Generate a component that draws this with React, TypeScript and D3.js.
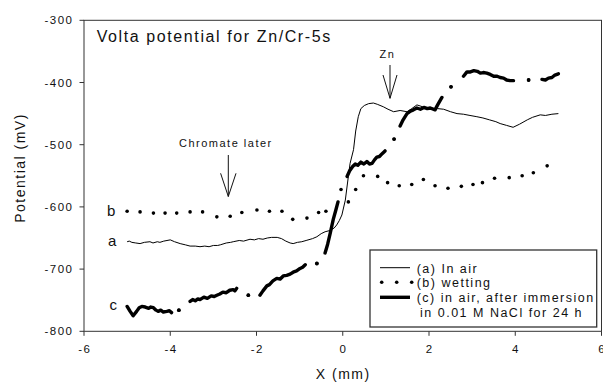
import React from "react";
import * as d3 from "d3";

const W = 603;
const H = 382;

const xTicks = [-6, -4, -2, 0, 2, 4, 6];
const yTicks = [-300, -400, -500, -600, -700, -800];

// (a) In air
const aX = [-5.0, -4.95, -4.89, -4.8, -4.7, -4.6, -4.47, -4.4, -4.3, -4.24, -4.15, -4.0, -3.9, -3.77, -3.65, -3.54, -3.42, -3.31, -3.2, -3.1, -3.0, -2.9, -2.84, -2.7, -2.6, -2.54, -2.4, -2.3, -2.15, -2.05, -1.95, -1.85, -1.75, -1.65, -1.52, -1.42, -1.32, -1.22, -1.15, -1.05, -0.95, -0.85, -0.7, -0.6, -0.5, -0.41, -0.3, -0.2, -0.14, -0.08, -0.02, 0.06, 0.13, 0.17, 0.25, 0.3, 0.36, 0.42, 0.5, 0.6, 0.71, 0.8, 0.94, 1.05, 1.18, 1.33, 1.49, 1.6, 1.72, 1.85, 2.03, 2.2, 2.34, 2.5, 2.65, 2.8, 2.95, 3.11, 3.25, 3.4, 3.55, 3.65, 3.8, 3.95, 4.1, 4.28, 4.4, 4.58, 4.7, 4.85, 5.0];
const aY = [-656, -655, -657, -658, -659, -657, -656, -658, -656, -657, -655, -653, -656, -659, -661, -663, -663, -664, -663, -664, -662, -662, -661, -658, -657, -656, -654, -655, -652, -653, -651, -652, -650, -649, -649, -651, -655, -658, -659, -657, -656, -654, -651, -648, -643, -640, -638, -634, -629, -622, -613, -589, -551, -530, -508, -478, -455, -442, -437, -434, -433, -435, -439, -443, -447, -445, -447, -442, -436, -439, -441, -442, -443, -447, -450, -451, -453, -455, -457, -460, -463, -466, -469, -472, -467, -460, -456, -452, -453, -451, -450];

// (b) wetting
const bX = [-5.0, -4.7, -4.39, -4.12, -3.85, -3.54, -3.25, -2.92, -2.61, -2.34, -1.99, -1.7, -1.41, -1.16, -0.83, -0.56, -0.39, -0.04, 0.13, 0.3, 0.48, 0.81, 1.04, 1.31, 1.6, 1.87, 2.14, 2.44, 2.75, 3.02, 3.24, 3.52, 3.86, 4.16, 4.42, 4.74];
const bY = [-607, -608, -610, -610, -610, -608, -608, -616, -615, -609, -605, -607, -607, -620, -618, -609, -607, -572, -592, -572, -550, -551, -561, -566, -564, -556, -566, -570, -567, -564, -561, -554, -553, -550, -545, -534];

// (c) in air, after immersion (NaN = gap in the recording)
const cX = [-5.0, -4.93, -4.86, -4.78, -4.72, -4.66, -4.58, -4.5, -4.45, -4.39, -4.33, -4.28, -4.22, -4.16, -4.08, -4.02, -3.97, NaN,
  -3.8, NaN,
  -3.54, -3.48, -3.42, -3.36, -3.31, -3.22, -3.14, -3.05, -2.98, -2.92, -2.85, -2.78, -2.7, -2.62, -2.54, -2.5, -2.46, NaN,
  -2.19, NaN,
  -1.92, -1.85, -1.76, -1.7, -1.62, -1.53, -1.45, -1.38, -1.3, -1.22, -1.15, -1.07, -0.99, -0.93, -0.87, NaN,
  -0.6, NaN,
  -0.41, -0.35, -0.29, -0.22, -0.16, -0.11, NaN,
  0.1, 0.16, 0.23, 0.29, 0.35, 0.42, 0.49, 0.56, 0.62, 0.68, 0.74, 0.79, 0.85, 0.92, 0.98, NaN,
  1.19, NaN,
  1.33, 1.4, 1.49, 1.57, 1.64, 1.72, 1.8, 1.88, 1.96, 2.03, 2.1, 2.14, 2.2, 2.3, NaN,
  2.51, NaN,
  2.8, 2.88, 2.96, 3.04, 3.12, 3.19, 3.26, 3.34, 3.42, 3.5, 3.58, 3.65, 3.73, 3.8, 3.88, 3.96, NaN,
  4.31, NaN,
  4.62, 4.7, 4.77, 4.85, 4.92, 5.0];
const cY = [-760, -768, -775, -768, -762, -760, -761, -763, -761, -762, -766, -768, -766, -769, -768, -767, -770, NaN,
  -766, NaN,
  -752, -749, -751, -748, -749, -745, -747, -743, -744, -742, -740, -737, -738, -734, -733, -735, -731, NaN,
  -742, NaN,
  -742, -735, -727, -725, -719, -715, -716, -711, -710, -708, -705, -703, -699, -697, -693, NaN,
  -691, NaN,
  -674, -660, -642, -620, -605, -592, NaN,
  -551, -542, -535, -531, -533, -528, -531, -527, -531, -530, -524, -520, -519, -514, -510, NaN,
  -491, NaN,
  -470, -460, -450, -446, -444, -441, -443, -440, -442, -441, -443, -444, -436, -424, NaN,
  -407, NaN,
  -390, -383, -383, -381, -382, -385, -384, -385, -387, -390, -390, -392, -393, -396, -397, -397, NaN,
  -396, NaN,
  -395, -396, -393, -392, -388, -386];

const legendLabels = ["(a) In air", "(b) wetting", "(c) in air, after immersion", "in 0.01 M NaCl for 24 h"];

const FONT = "'Liberation Sans', Arial, Helvetica, sans-serif";

export default function App() {
  const x = d3.scaleLinear().domain([-6, 6]).range([84, 601.5]);
  const y = d3.scaleLinear().domain([-800, -300]).range([331.3, 20.3]);

  const aData = aX.map((v, i) => [v, aY[i]] as [number, number]);
  const bData = bX.map((v, i) => [v, bY[i]] as [number, number]);
  const cData = cX.map((v, i) => [v, cY[i]] as [number, number]);

  const line = d3
    .line<[number, number]>()
    .defined((d) => !isNaN(d[0]) && !isNaN(d[1]))
    .x((d) => x(d[0]))
    .y((d) => y(d[1]));

  const cIsolated = cData.filter((d, i) => {
    if (isNaN(d[0])) return false;
    const p = cData[i - 1];
    const n = cData[i + 1];
    return (!p || isNaN(p[0])) && (!n || isNaN(n[0]));
  });

  const x0 = x(-6), x1 = x(6), y0 = y(-800), y1 = y(-300);

  const arrow = (cx: number, top: number, tip: number, wingY: number, half: number, key: string) => (
    <g key={key} stroke="#111" strokeWidth={1} fill="none">
      <line x1={cx} y1={top} x2={cx} y2={tip} />
      <polyline points={`${cx - half},${wingY} ${cx},${tip} ${cx + half},${wingY}`} />
    </g>
  );

  const legY = [267.7, 282.3, 297.3];

  return (
    <svg width={W} height={H} style={{ position: "absolute", left: 0, top: 0, background: "#fff" }} fontFamily={FONT}>
      <rect x={0} y={0} width={W} height={H} fill="#fff" />
      {/* frame */}
      <rect x={x0} y={y1} width={x1 - x0} height={y0 - y1} fill="none" stroke="#333" strokeWidth={1} />

      {/* y axis ticks */}
      {yTicks.map((t) => (
        <g key={"y" + t}>
          <line x1={x0 - 4.5} x2={x0} y1={y(t)} y2={y(t)} stroke="#333" strokeWidth={1} />
          <text x={73.5} y={y(t) + 4} textAnchor="end" fontSize={11.5} letterSpacing={1.5} fill="#111">
            {t}
          </text>
        </g>
      ))}
      {/* x axis ticks */}
      {xTicks.map((t) => (
        <g key={"x" + t}>
          <line x1={x(t)} x2={x(t)} y1={y0} y2={y0 + 4.5} stroke="#333" strokeWidth={1} />
          <text x={x(t) + 0.75} y={353} textAnchor="middle" fontSize={11.5} letterSpacing={1.5} fill="#111">
            {t}
          </text>
        </g>
      ))}

      <text x={342.5 + 0.75} y={379} textAnchor="middle" fontSize={14} letterSpacing={1.5} fill="#111">
        X (mm)
      </text>
      <text transform="translate(25,168) rotate(-90)" textAnchor="middle" fontSize={14} letterSpacing={1.5} fill="#111">
        Potential (mV)
      </text>

      <text x={96.7} y={41.7} fontSize={16} letterSpacing={1.6} fill="#111">
        Volta potential for Zn/Cr-5s
      </text>

      {/* curves */}
      <path d={line(aData) || ""} fill="none" stroke="#000" strokeWidth={1} strokeLinejoin="round" />
      {bData.map((d, i) => (
        <circle key={"b" + i} cx={x(d[0])} cy={y(d[1])} r={1.8} fill="#000" />
      ))}
      <path d={line(cData) || ""} fill="none" stroke="#000" strokeWidth={3.4} strokeLinejoin="round" strokeLinecap="round" />
      {cIsolated.map((d, i) => (
        <circle key={"c" + i} cx={x(d[0])} cy={y(d[1])} r={1.9} fill="#000" />
      ))}

      {/* curve labels */}
      <text x={107} y={216} fontSize={15} fill="#111">b</text>
      <text x={108} y={246} fontSize={15} fill="#111">a</text>
      <text x={109.5} y={310} fontSize={15} fill="#111">c</text>

      {/* annotations */}
      <text x={179} y={146.7} fontSize={11} letterSpacing={1.5} fill="#111">Chromate later</text>
      {arrow(228.3, 155, 196.5, 173.3, 7.7, "arr1")}
      <text x={387.5} y={58.3} textAnchor="middle" fontSize={11} letterSpacing={1.5} fill="#111">Zn</text>
      {arrow(390, 65, 98.3, 75, 7, "arr2")}

      {/* legend */}
      <rect x={370} y={250} width={226.7} height={77} fill="#fff" stroke="#333" strokeWidth={1.3} />
      <line x1={380} x2={410} y1={legY[0]} y2={legY[0]} stroke="#000" strokeWidth={1} />
      {[381.7, 396.7, 411.7].map((px, i) => (
        <circle key={"lb" + i} cx={px} cy={legY[1]} r={1.8} fill="#000" />
      ))}
      <line x1={380} x2={410} y1={legY[2]} y2={legY[2]} stroke="#000" strokeWidth={3.4} />
      <text x={416.7} y={272.5} fontSize={12.5} letterSpacing={1.5} fill="#111">{legendLabels[0]}</text>
      <text x={416.7} y={287.3} fontSize={12.5} letterSpacing={1.5} fill="#111">{legendLabels[1]}</text>
      <text x={416.7} y={302.2} fontSize={12.5} letterSpacing={1.5} fill="#111">{legendLabels[2]}</text>
      <text x={420} y={316.7} fontSize={12.5} letterSpacing={1.5} fill="#111">{legendLabels[3]}</text>
    </svg>
  );
}
